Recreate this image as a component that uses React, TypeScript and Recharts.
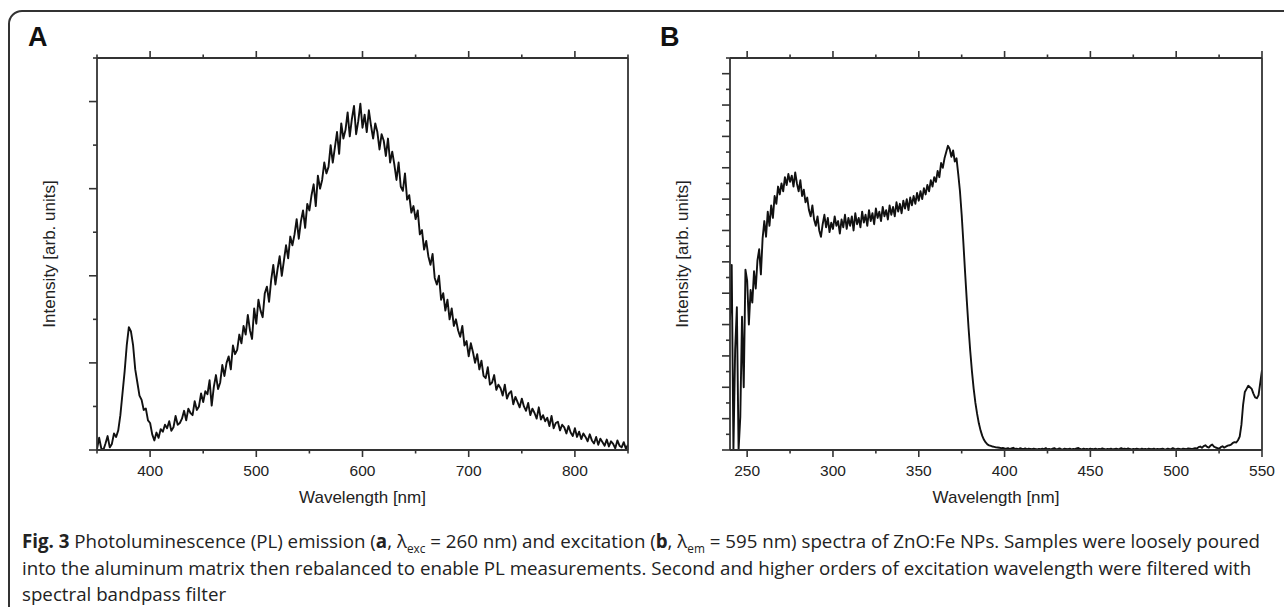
import { Label, Line, LineChart, XAxis, YAxis } from 'recharts';

const FONT = '"Liberation Sans", Arial, sans-serif';
const AXIS = '#333';
const INK = '#111';

// A: PL emission, lambda_exc = 260 nm, sampled every 2 nm from 350 nm
const A_START = 350;
const A_STEP = 2;
const A_INTENSITY = [
  0.02, 0.28, 0.04, 0.0, 0.15, 0.32, 0.06, 0.14, 0.38, 0.3, // 350
  0.45, 0.8, 1.3, 1.8, 2.4, 2.82, 2.72, 2.4, 1.85, 1.55, // 370
  1.25, 1.15, 0.92, 0.95, 0.68, 0.62, 0.36, 0.22, 0.4, 0.28, // 390
  0.48, 0.42, 0.58, 0.5, 0.66, 0.44, 0.52, 0.78, 0.58, 0.62, // 410
  0.72, 0.9, 0.68, 0.95, 0.85, 0.8, 1.12, 0.92, 1.0, 1.3, // 430
  1.1, 1.35, 1.28, 1.6, 1.02, 1.45, 1.72, 1.4, 1.55, 1.95, // 450
  1.7, 2.0, 2.15, 1.85, 2.4, 2.2, 2.3, 2.65, 2.45, 2.85, // 470
  2.65, 3.1, 2.75, 2.55, 3.25, 2.9, 3.45, 3.2, 3.05, 3.6, // 490
  3.75, 3.4, 3.9, 4.25, 3.8, 4.15, 4.45, 4.0, 4.35, 4.7, // 510
  4.4, 4.9, 4.7, 4.95, 5.3, 4.85, 5.25, 5.5, 5.1, 5.65, // 530
  5.5, 5.85, 6.1, 5.6, 6.3, 6.0, 6.2, 6.6, 6.35, 6.5, // 550
  7.0, 6.6, 6.95, 7.3, 6.8, 7.5, 7.15, 7.35, 7.75, 7.2, // 570
  7.6, 7.9, 7.25, 7.55, 7.95, 7.4, 7.7, 7.3, 7.8, 7.45, // 590
  7.15, 7.5, 7.3, 6.9, 7.25, 7.1, 6.75, 7.15, 6.6, 6.85, // 610
  6.55, 6.2, 6.6, 6.05, 5.95, 6.35, 5.75, 5.85, 5.45, 5.6, // 630
  5.3, 5.5, 4.95, 5.05, 4.6, 4.8, 4.45, 4.25, 4.5, 3.95, // 650
  3.8, 4.0, 3.45, 3.6, 3.2, 3.45, 3.0, 3.25, 2.85, 3.0, // 670
  2.75, 2.6, 2.85, 2.4, 2.5, 2.15, 2.45, 2.25, 2.0, 2.2, // 690
  1.85, 2.05, 1.7, 1.65, 1.9, 1.5, 1.55, 1.72, 1.38, 1.5, // 710
  1.42, 1.25, 1.5, 1.18, 1.3, 1.35, 1.05, 1.22, 1.1, 0.98, // 730
  1.18, 1.0, 0.9, 1.08, 0.8, 0.95, 0.85, 0.72, 0.98, 0.7, // 750
  0.8, 0.66, 0.74, 0.55, 0.78, 0.5, 0.62, 0.65, 0.45, 0.58, // 770
  0.52, 0.38, 0.55, 0.4, 0.32, 0.5, 0.3, 0.42, 0.25, 0.38, // 790
  0.3, 0.2, 0.36, 0.22, 0.15, 0.3, 0.12, 0.26, 0.18, 0.1, // 810
  0.24, 0.08, 0.2, 0.14, 0.04, 0.22, 0.1, 0.06, 0.18, 0.03, // 830
  0.12, // 850
];
const A_X_TICKS = [350, 400, 450, 500, 550, 600, 650, 700, 750, 800, 850];
const A_X_MAJOR = [400, 500, 600, 700, 800];
const A_Y_TICKS = [0, 1, 2, 3, 4, 5, 6, 7, 8, 9];

// B: PL excitation, lambda_em = 595 nm, sampled every 1 nm from 240 nm
const B_START = 240;
const B_STEP = 1;
const B_INTENSITY = [
  8.3, 11.8, 0, 6.4, 9.1, 0, 2.1, 8.5, 4.0, 11.5, // 240
  10.8, 8.0, 10.2, 9.4, 11.4, 10.3, 12.1, 12.8, 11.2, 13.5, // 250
  14.6, 13.6, 15.2, 14.3, 15.6, 14.8, 16.2, 15.7, 16.8, 16.3, // 260
  17.0, 16.5, 17.4, 16.9, 17.6, 17.1, 17.5, 16.8, 17.7, 17.0, // 270
  16.5, 17.2, 16.2, 16.6, 15.8, 16.1, 15.3, 14.9, 15.6, 14.7, // 280
  14.3, 14.9, 14.0, 13.6, 14.4, 15.0, 14.2, 14.8, 13.9, 14.5, // 290
  14.1, 14.9, 14.3, 14.6, 13.8, 14.7, 14.2, 15.0, 14.1, 14.8, // 300
  14.3, 14.9, 14.0, 15.1, 14.4, 14.8, 14.2, 15.2, 14.5, 15.0, // 310
  14.3, 15.3, 14.6, 15.1, 14.4, 15.4, 14.8, 15.2, 14.6, 15.5, // 320
  14.9, 15.3, 14.7, 15.6, 15.0, 15.5, 14.9, 15.8, 15.2, 15.7, // 330
  15.1, 15.9, 15.4, 16.0, 15.3, 16.1, 15.6, 16.2, 15.7, 16.4, // 340
  15.9, 16.5, 16.0, 16.7, 16.3, 16.9, 16.5, 17.2, 16.8, 17.4, // 350
  17.1, 17.8, 17.4, 18.3, 18.0, 18.6, 19.0, 19.4, 19.2, 18.7, // 360
  19.1, 18.4, 18.6, 17.6, 16.5, 15.0, 13.2, 11.3, 9.5, 7.8, // 370
  6.3, 5.0, 3.9, 3.0, 2.3, 1.7, 1.25, 0.9, 0.65, 0.48, // 380
  0.36, 0.3, 0.26, 0.22, 0.2, 0.17, 0.16, 0.14, 0.12, 0.13, // 390
  0.1, 0.08, 0.12, 0.06, 0.1, 0.14, 0.07, 0.09, 0.05, 0.11, // 400
  0.08, 0.06, 0.1, 0.04, 0.08, 0.07, 0.05, 0.09, 0.06, 0.04, // 410
  0.07, 0.05, 0.08, 0.04, 0.12, 0.05, 0.06, 0.04, 0.08, 0.12, // 420
  0.05, 0.07, 0.1, 0.05, 0.04, 0.09, 0.06, 0.05, 0.08, 0.04, // 430
  0.07, 0.05, 0.1, 0.13, 0.06, 0.04, 0.08, 0.05, 0.07, 0.04, // 440
  0.09, 0.06, 0.05, 0.08, 0.04, 0.07, 0.05, 0.1, 0.06, 0.04, // 450
  0.07, 0.05, 0.08, 0.04, 0.06, 0.09, 0.05, 0.07, 0.12, 0.06, // 460
  0.08, 0.05, 0.1, 0.06, 0.04, 0.07, 0.05, 0.09, 0.06, 0.04, // 470
  0.08, 0.05, 0.07, 0.04, 0.09, 0.06, 0.05, 0.08, 0.04, 0.07, // 480
  0.05, 0.06, 0.09, 0.05, 0.04, 0.08, 0.06, 0.05, 0.12, 0.07, // 490
  0.05, 0.08, 0.06, 0.04, 0.09, 0.07, 0.05, 0.1, 0.08, 0.06, // 500
  0.09, 0.12, 0.1, 0.18, 0.22, 0.14, 0.25, 0.3, 0.2, 0.15, // 510
  0.28, 0.35, 0.22, 0.16, 0.12, 0.08, 0.18, 0.24, 0.15, 0.22, // 520
  0.28, 0.3, 0.35, 0.45, 0.5, 0.48, 0.62, 0.85, 1.6, 2.9, // 530
  3.7, 3.9, 4.1, 4.0, 3.9, 3.6, 3.35, 3.3, 3.5, 4.3, // 540
  5.1, // 550
];
const B_X_TICKS = [250, 275, 300, 325, 350, 375, 400, 425, 450, 475, 500, 525, 550];
const B_X_MAJOR = [250, 300, 350, 400, 450, 500, 550];
const B_Y_TICKS = [
  0, 1, 2, 3, 4, 5, 6, 7, 8, 9, 10, 11, 12, 13, 14, 15, 16, 17, 18, 19, 20, 21, 22, 23, 24, 25,
];

const aData = A_INTENSITY.map((v, i) => ({ nm: A_START + i * A_STEP, v }));
const bData = B_INTENSITY.map((v, i) => ({ nm: B_START + i * B_STEP, v }));

function xTick(major: number[], side: 'bottom' | 'top') {
  return (props: any) => {
    const { x, y, payload } = props;
    const isMajor = major.includes(payload.value);
    const len = isMajor ? 7 : 3.5;
    const dir = side === 'bottom' ? 1 : -1;
    return (
      <g>
        <line x1={x} x2={x} y1={y} y2={y + dir * len} stroke={AXIS} strokeWidth={1.6} />
        {side === 'bottom' && isMajor && (
          <text x={x} y={y + 26} textAnchor="middle" fontSize={15.5} fill="#222" fontFamily={FONT}>
            {payload.value}
          </text>
        )}
      </g>
    );
  };
}

function yTick(props: any) {
  const { x, y, payload } = props;
  const len = payload.value % 2 === 0 ? 8 : 4;
  return <line x1={x} x2={x - len} y1={y} y2={y} stroke={AXIS} strokeWidth={1.6} />;
}

function xTitle(props: any) {
  const vb = props.viewBox;
  return (
    <text x={vb.x + vb.width / 2} y={vb.y + 53} textAnchor="middle" fontSize={17} fill="#222" fontFamily={FONT}>
      Wavelength [nm]
    </text>
  );
}

function yTitle(props: any) {
  const vb = props.viewBox;
  const cx = vb.x + vb.width - 48;
  const cy = vb.y + vb.height / 2;
  return (
    <text
      x={cx}
      y={cy}
      transform={`rotate(-90, ${cx}, ${cy})`}
      textAnchor="middle"
      dominantBaseline="central"
      fontSize={17}
      fill="#222"
      fontFamily={FONT}
    >
      Intensity [arb. units]
    </text>
  );
}

function Panel({
  data,
  xDomain,
  xTicks,
  xMajor,
  yTicks,
  width,
  margin,
}: {
  data: { nm: number; v: number }[];
  xDomain: [number, number];
  xTicks: number[];
  xMajor: number[];
  yTicks: number[];
  width: number;
  margin: { top: number; right: number; bottom: number; left: number };
}) {
  const yMax = yTicks[yTicks.length - 1];
  // axes need a size > 0 to be drawn, so each takes 1px out of the margin
  return (
    <LineChart width={width} height={520} data={data} margin={margin}>
      <XAxis
        dataKey="nm"
        type="number"
        domain={xDomain}
        ticks={xTicks}
        interval={0}
        allowDataOverflow
        height={1}
        tickSize={0}
        tickMargin={0}
        tickLine={false}
        axisLine={{ stroke: AXIS, strokeWidth: 1.8 }}
        tick={xTick(xMajor, 'bottom')}
      >
        <Label content={xTitle} />
      </XAxis>
      <XAxis
        xAxisId="top"
        orientation="top"
        dataKey="nm"
        type="number"
        domain={xDomain}
        ticks={xTicks}
        interval={0}
        allowDataOverflow
        height={1}
        tickSize={0}
        tickMargin={0}
        tickLine={false}
        axisLine={{ stroke: AXIS, strokeWidth: 1.8 }}
        tick={xTick(xMajor, 'top')}
      />
      <YAxis
        type="number"
        domain={[0, yMax]}
        ticks={yTicks}
        interval={0}
        allowDataOverflow
        width={1}
        tickSize={0}
        tickMargin={0}
        tickLine={false}
        axisLine={{ stroke: AXIS, strokeWidth: 1.8 }}
        tick={yTick}
      >
        <Label content={yTitle} />
      </YAxis>
      <YAxis
        yAxisId="right"
        orientation="right"
        type="number"
        domain={[0, yMax]}
        width={1}
        tick={false}
        tickLine={false}
        axisLine={{ stroke: AXIS, strokeWidth: 1.8 }}
      />
      <Line
        type="linear"
        dataKey="v"
        stroke={INK}
        strokeWidth={1.9}
        strokeLinejoin="round"
        dot={false}
        activeDot={false}
        isAnimationActive={false}
      />
    </LineChart>
  );
}

const letter = {
  position: 'absolute' as const,
  top: 22,
  fontFamily: FONT,
  fontWeight: 700,
  fontSize: 27,
  lineHeight: '30px',
  color: '#111',
};

const sub = { fontSize: 12, lineHeight: 0 };

export default function App() {
  return (
    <div
      style={{
        position: 'fixed',
        left: 0,
        top: 0,
        width: 1284,
        height: 607,
        overflow: 'hidden',
        background: '#fff',
      }}
    >
      <div
        style={{
          position: 'absolute',
          left: 8,
          top: 10,
          width: 1320,
          height: 640,
          border: '2px solid #333',
          borderRadius: 14,
        }}
      />
      <div style={{ position: 'absolute', left: 0, top: 0 }}>
        <Panel
          data={aData}
          xDomain={[350, 850]}
          xTicks={A_X_TICKS}
          xMajor={A_X_MAJOR}
          yTicks={A_Y_TICKS}
          width={660}
          margin={{ top: 57, right: 31, bottom: 69, left: 96 }}
        />
      </div>
      <div style={{ position: 'absolute', left: 640, top: 0 }}>
        <Panel
          data={bData}
          xDomain={[240, 550]}
          xTicks={B_X_TICKS}
          xMajor={B_X_MAJOR}
          yTicks={B_Y_TICKS}
          width={644}
          margin={{ top: 57, right: 21, bottom: 69, left: 89 }}
        />
      </div>
      <div style={{ ...letter, left: 28 }}>A</div>
      <div style={{ ...letter, left: 660 }}>B</div>
      <div
        style={{
          position: 'absolute',
          left: 22,
          top: 528,
          fontFamily: '"Open Sans", sans-serif',
          fontSize: 19,
          lineHeight: '26.5px',
          color: '#222',
          whiteSpace: 'nowrap',
          transform: 'scaleX(0.985)',
          transformOrigin: 'left top',
        }}
      >
        <div>
          <b>Fig. 3</b> Photoluminescence (PL) emission (<b>a</b>, λ<sub style={sub}>exc</sub> = 260 nm) and
          excitation (<b>b</b>, λ<sub style={sub}>em</sub> = 595 nm) spectra of ZnO:Fe NPs. Samples were loosely poured
        </div>
        <div>
          into the aluminum matrix then rebalanced to enable PL measurements. Second and higher orders of excitation
          wavelength were filtered with
        </div>
        <div>spectral bandpass filter</div>
      </div>
    </div>
  );
}
